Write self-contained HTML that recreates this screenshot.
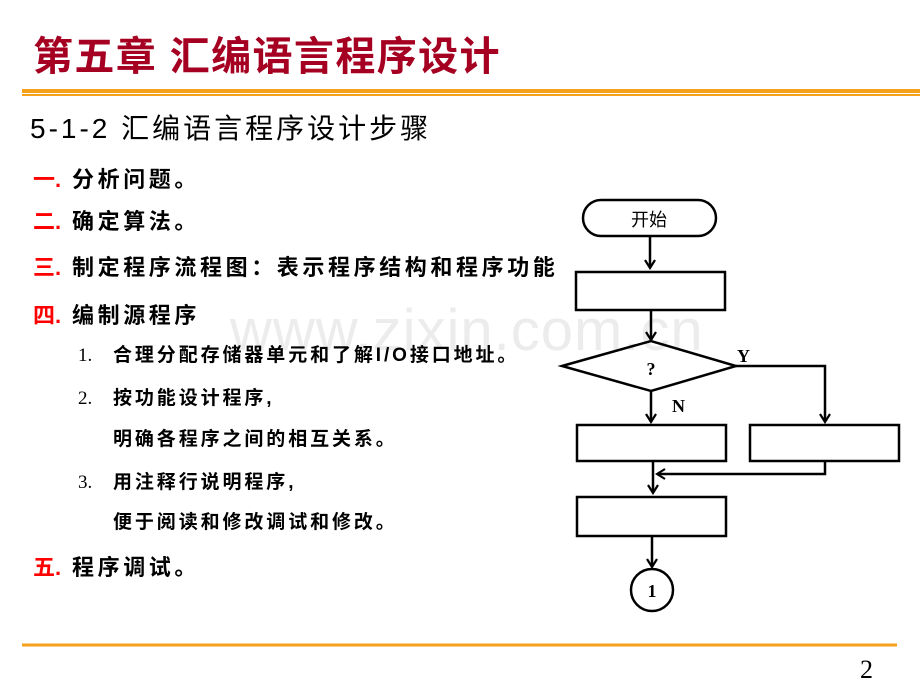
<!DOCTYPE html>
<html><head><meta charset="utf-8"><style>
body{margin:0;width:920px;height:690px;background:#fff;position:relative;overflow:hidden;font-family:"Liberation Sans","Noto Sans CJK SC",sans-serif}
.t{position:absolute;white-space:nowrap;line-height:1}
.title{left:33px;top:37px;font-size:40px;font-weight:bold;color:#A50021;letter-spacing:1.4px}
.sub{left:30px;top:115px;font-size:28px;letter-spacing:3px;color:#000}
.m{font-size:22px;font-weight:bold;letter-spacing:3.6px;left:33px}
.m b{color:#f00;font-weight:bold;letter-spacing:0;display:inline-block;width:39px}
.s{font-size:19px;font-weight:bold;letter-spacing:2.9px;left:113px}
.n{font-size:19px;left:78px;font-family:"Liberation Serif",serif}
</style></head><body>
<div class="t" style="left:230px;top:302px;font-size:58px;color:#ececec;letter-spacing:1px">www.zixin.com.cn</div>
<div class="t title">第五章 汇编语言程序设计</div>
<div style="position:absolute;left:22px;top:89px;width:898px;height:4px;background:#F7A11A"></div>
<div style="position:absolute;left:22px;top:94px;width:898px;height:1.5px;background:#F7A11A"></div>
<div class="t sub">5-1-2 汇编语言程序设计步骤</div>
<div class="t m" style="top:169px"><b>一.</b>分析问题。</div>
<div class="t m" style="top:211px"><b>二.</b>确定算法。</div>
<div class="t m" style="top:257px"><b>三.</b>制定程序流程图：表示程序结构和程序功能</div>
<div class="t m" style="top:305px"><b>四.</b>编制源程序</div>
<div class="t n" style="top:346px">1.</div>
<div class="t s" style="top:346px">合理分配存储器单元和了解I/O接口地址。</div>
<div class="t n" style="top:389px">2.</div>
<div class="t s" style="top:389px">按功能设计程序,</div>
<div class="t s" style="top:430px">明确各程序之间的相互关系。</div>
<div class="t n" style="top:473px">3.</div>
<div class="t s" style="top:473px">用注释行说明程序,</div>
<div class="t s" style="top:513px">便于阅读和修改调试和修改。</div>
<div class="t m" style="top:557px"><b>五.</b>程序调试。</div>
<svg style="position:absolute;left:0;top:0" width="920" height="690">
<defs><marker id="a" markerWidth="12" markerHeight="12" refX="10" refY="6" orient="auto" markerUnits="userSpaceOnUse"><path d="M2,1 L10,6 L2,11" fill="none" stroke="#000" stroke-width="2.2"/></marker></defs>
<g stroke="#000" stroke-width="2.5" fill="none">
<rect x="583" y="200" width="133" height="36" rx="18"/>
<rect x="576" y="272" width="149" height="38"/>
<polygon points="562,366 651,341 736,366 651,391"/>
<rect x="577" y="425" width="149" height="36"/>
<rect x="750" y="425" width="149" height="36"/>
<rect x="577" y="497" width="149" height="39"/>
<circle cx="652" cy="590" r="21"/>
<line x1="650" y1="237" x2="650" y2="268" marker-end="url(#a)"/>
<line x1="651" y1="310" x2="651" y2="340" marker-end="url(#a)"/>
<line x1="651" y1="391" x2="651" y2="422" marker-end="url(#a)"/>
<polyline points="736,366 825,366 825,422" marker-end="url(#a)"/>
<line x1="653" y1="461" x2="653" y2="493" marker-end="url(#a)"/>
<polyline points="825,461 825,474 657,474" marker-end="url(#a)"/>
<line x1="652" y1="536" x2="652" y2="567" marker-end="url(#a)"/>
</g>
<g font-family="Liberation Serif,serif" font-weight="bold" font-size="18">
<text x="651" y="375" text-anchor="middle">?</text>
<text x="737" y="362">Y</text>
<text x="672" y="412">N</text>
<text x="652" y="597" text-anchor="middle">1</text>
</g>
<text x="649" y="226" text-anchor="middle" font-size="18" font-family="Liberation Sans,Noto Sans CJK SC,sans-serif">开始</text>
<line x1="22" y1="645" x2="897" y2="645" stroke="#F7A11A" stroke-width="3"/>
<text x="860" y="678" font-size="26" font-family="Liberation Serif,serif">2</text>
</svg>
</body></html>
